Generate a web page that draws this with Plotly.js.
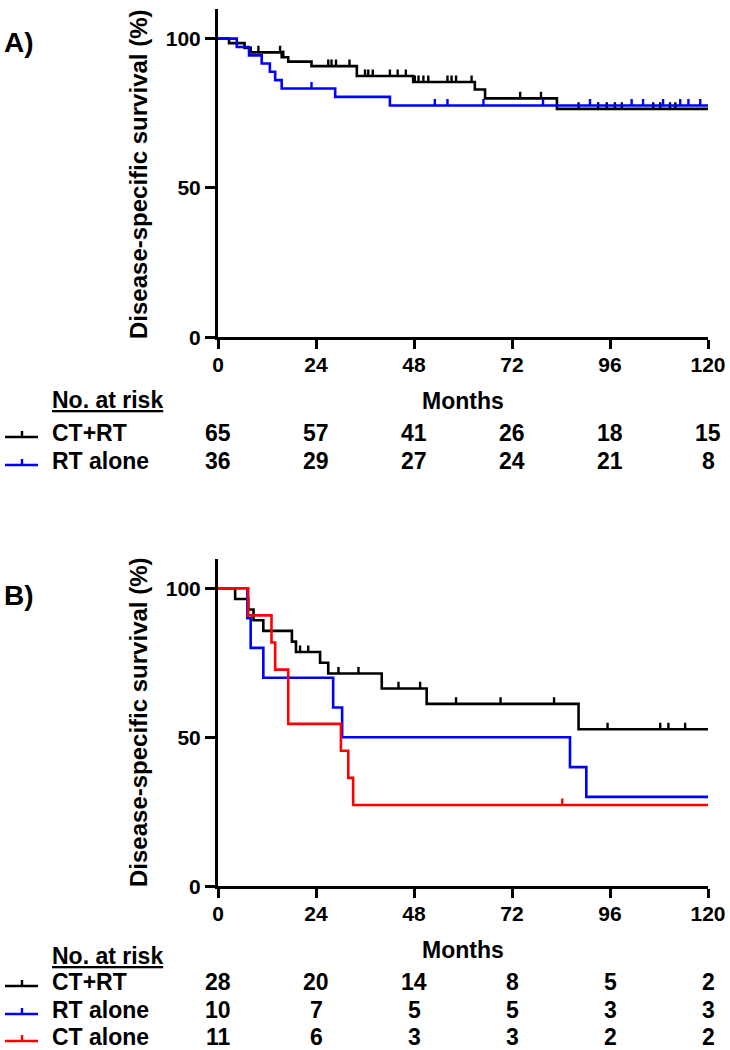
<!DOCTYPE html>
<html><head><meta charset="utf-8">
<script src="https://cdn.plot.ly/plotly-3.0.1.min.js"></script>
<style>html,body{margin:0;padding:0;background:#fff}</style>
</head><body><div id="chart" style="width:730px;height:1050px"></div>
<script>
// ---------- Panel A data ----------
const aCtRtTime = [0, 2.7, 6.5, 8.0, 15.6, 17.2, 22.9, 34.0, 47.8, 62.9, 65.4, 83.0, 120];
const aCtRtSurv = [100, 98.5, 96.9, 95.4, 93.8, 92.3, 90.8, 87.5, 85.5, 83.0, 80.0, 76.5, 76.5];
const aCtRtCens = [9.9, 15.2, 16.0, 27.0, 27.8, 28.9, 32.2, 36.0, 36.8, 37.9, 42.1, 44.0, 46.0, 48.2, 49.1, 50.3, 51.5, 56.2, 57.2, 58.3, 62.1, 74.0, 79.1, 88.3, 93.1, 95.2, 97.2, 98.9, 106.6, 108.3, 110.7, 112.0];
const aRtTime = [0, 4.6, 7.6, 10.7, 12.7, 14.0, 15.6, 28.7, 42.1, 120];
const aRtSurv = [100, 97.2, 94.4, 91.7, 88.9, 86.1, 83.3, 80.5, 77.6, 77.6];
const aRtCens = [22.9, 53.1, 56.2, 65.0, 79.6, 91.1, 101.3, 104.1, 109.0, 113.2, 115.2, 118.1];

// ---------- Panel B data ----------
const bCtRtTime = [0, 4.2, 7.4, 8.7, 11.1, 18.1, 19.1, 25.0, 27.0, 40.1, 51.1, 88.3, 120];
const bCtRtSurv = [100, 96.4, 92.9, 89.3, 85.7, 82.1, 78.6, 75.0, 71.4, 66.4, 61.2, 52.7, 52.7];
const bCtRtCens = [20.1, 22.1, 29.5, 34.4, 44.2, 49.5, 58.3, 69.2, 82.3, 95.4, 108.3, 110.3, 114.4];
const bRtTime = [0, 7.2, 8.0, 11.1, 28.2, 30.4, 86.2, 90.2, 120];
const bRtSurv = [100, 90, 80, 70, 60, 50, 40, 30, 30];
const bCtTime = [0, 7.4, 13.1, 14.0, 17.2, 30.1, 31.9, 33.1, 120];
const bCtSurv = [100, 90.9, 81.8, 72.7, 54.5, 45.5, 36.4, 27.3, 27.3];
const bCtCens = [84.3];

// ---------- Risk tables ----------
const riskMonths = [0, 24, 48, 72, 96, 120];
const aRiskCtRt = [65, 57, 41, 26, 18, 15];
const aRiskRt = [36, 29, 27, 24, 21, 8];
const bRiskCtRt = [28, 20, 14, 8, 5, 2];
const bRiskRt = [10, 7, 5, 5, 3, 3];
const bRiskCt = [11, 6, 3, 3, 2, 2];

const groupNames = ['CT+RT', 'RT alone', 'CT alone'];
const colors = {ctrt: '#000000', rt: '#0000ff', ct: '#ff0000'};

const W = 730, H = 1050;
const FAM = 'Liberation Sans, Arial, Helvetica, sans-serif';
const px = v => v / W;
const py = v => 1 - v / H;

function survAt(times, surv, t) {
  let s = surv[0];
  for (let i = 0; i < times.length; i++) { if (times[i] <= t) s = surv[i]; }
  return s;
}

function curve(times, surv, color, xa, ya, name) {
  return {x: times, y: surv, type: 'scatter', mode: 'lines', line: {shape: 'hv', color: color, width: 2.6},
          xaxis: xa, yaxis: ya, name: name, showlegend: false, hoverinfo: 'skip'};
}
function cens(times, surv, cts, color, xa, ya) {
  return {x: cts, y: cts.map(t => survAt(times, surv, t)), type: 'scatter', mode: 'markers',
          marker: {size: 1, color: color}, xaxis: xa, yaxis: ya, showlegend: false, hoverinfo: 'skip',
          error_y: {type: 'constant', value: 2.2, valueminus: 0, symmetric: false, width: 0, thickness: 2.4, color: color}};
}

const traces = [
  curve(aCtRtTime, aCtRtSurv, colors.ctrt, 'x', 'y', groupNames[0]),
  cens(aCtRtTime, aCtRtSurv, aCtRtCens, colors.ctrt, 'x', 'y'),
  curve(aRtTime, aRtSurv, colors.rt, 'x', 'y', groupNames[1]),
  cens(aRtTime, aRtSurv, aRtCens, colors.rt, 'x', 'y'),
  curve(bCtRtTime, bCtRtSurv, colors.ctrt, 'x2', 'y2', groupNames[0]),
  cens(bCtRtTime, bCtRtSurv, bCtRtCens, colors.ctrt, 'x2', 'y2'),
  curve(bRtTime, bRtSurv, colors.rt, 'x2', 'y2', groupNames[1]),
  curve(bCtTime, bCtSurv, colors.ct, 'x2', 'y2', groupNames[2]),
  cens(bCtTime, bCtSurv, bCtCens, colors.ct, 'x2', 'y2')
];

const tickFont = {family: FAM, size: 21, color: '#000', weight: 'bold'};
function xax(anchor) {
  return {domain: [px(218), px(708)], range: [0, 120], tickvals: riskMonths, ticks: 'outside', ticklen: 9, tickwidth: 3,
          tickcolor: '#000', showline: true, linewidth: 3, linecolor: '#000', showgrid: false, zeroline: false,
          tickfont: tickFont, ticklabelstandoff: -3, anchor: anchor, fixedrange: true};
}
function yax(anchor, d) {
  return {domain: d, range: [0, 110], tickvals: [0, 50, 100], ticks: 'outside', ticklen: 10, tickwidth: 3,
          tickcolor: '#000', showline: true, linewidth: 3, linecolor: '#000', showgrid: false, zeroline: false,
          tickfont: tickFont, anchor: anchor, fixedrange: true};
}

const ann = [];
const shapes = [];
function txt(text, x, y, size, xanchor, extra) {
  ann.push(Object.assign({text: text, x: x, y: y, xref: 'paper', yref: 'paper', xanchor: xanchor, yanchor: 'middle',
    showarrow: false, font: {family: FAM, size: size, color: '#000', weight: 'bold'}}, extra || {}));
}

// panel labels
txt('A)', px(2), py(42), 28, 'left');
txt('B)', px(2), py(595), 28, 'left');
// y titles
txt('Disease-specific survival (%)', px(138), py(174), 24, 'center', {textangle: -90});
txt('Disease-specific survival (%)', px(138), py(722), 24, 'center', {textangle: -90});
// x titles
txt('Months', px(463), py(401), 23, 'center');
txt('Months', px(463), py(950), 23, 'center');
// No. at risk
txt('<u>No. at risk</u>', px(50), py(400), 23, 'left');
txt('<u>No. at risk</u>', px(50), py(956), 23, 'left');

function riskRow(label, counts, color, yc, xa) {
  txt(label, px(50), py(yc), 23, 'left');
  counts.forEach((c, i) => {
    ann.push({text: String(c), x: riskMonths[i], y: py(yc), xref: xa, yref: 'paper', xanchor: 'center', yanchor: 'middle',
      showarrow: false, font: {family: FAM, size: 23, color: '#000', weight: 'bold'}});
  });
  shapes.push({type: 'line', xref: 'paper', yref: 'paper', x0: px(5), x1: px(38), y0: py(yc + 4), y1: py(yc + 4),
               line: {color: color, width: 2.4}});
  shapes.push({type: 'line', xref: 'paper', yref: 'paper', x0: px(22), x1: px(22), y0: py(yc + 4), y1: py(yc - 2),
               line: {color: color, width: 2.4}});
}
riskRow(groupNames[0], aRiskCtRt, colors.ctrt, 433, 'x');
riskRow(groupNames[1], aRiskRt, colors.rt, 461, 'x');
riskRow(groupNames[0], bRiskCtRt, colors.ctrt, 982, 'x2');
riskRow(groupNames[1], bRiskRt, colors.rt, 1010, 'x2');
riskRow(groupNames[2], bRiskCt, colors.ct, 1037, 'x2');

const layout = {
  width: W, height: H, margin: {l: 0, r: 0, t: 0, b: 0}, paper_bgcolor: '#fff', plot_bgcolor: '#fff',
  font: {family: FAM, color: '#000', weight: 'bold'}, showlegend: false,
  xaxis: xax('y'), yaxis: yax('x', [py(337.3), py(8.8)]),
  xaxis2: xax('y2'), yaxis2: yax('x2', [py(886.3), py(558.5)]),
  annotations: ann, shapes: shapes
};

Plotly.newPlot('chart', traces, layout, {staticPlot: true, displayModeBar: false});
</script></body></html>
